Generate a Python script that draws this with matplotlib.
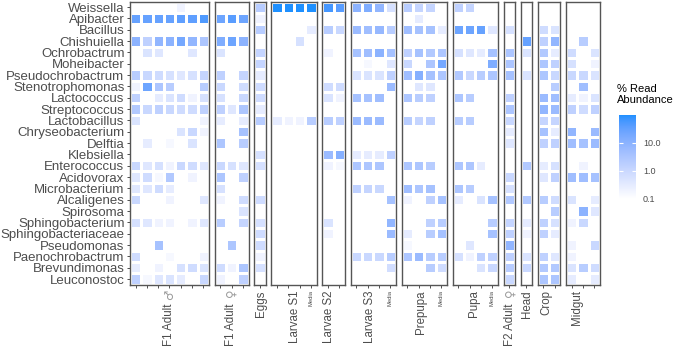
import numpy as np
import matplotlib
matplotlib.use("Agg")
import matplotlib.pyplot as plt
from matplotlib.colors import LogNorm, ListedColormap
from matplotlib.cm import ScalarMappable
from matplotlib.ticker import NullLocator

plt.rcParams['font.family'] = ['Liberation Sans', 'DejaVu Sans']

genera = ["Weissella", "Apibacter", "Bacillus", "Chishuiella", "Ochrobactrum",
          "Moheibacter", "Pseudochrobactrum", "Stenotrophomonas", "Lactococcus", "Streptococcus",
          "Lactobacillus", "Chryseobacterium", "Delftia", "Klebsiella", "Enterococcus",
          "Acidovorax", "Microbacterium", "Alcaligenes", "Spirosoma", "Sphingobacterium",
          "Sphingobacteriaceae", "Pseudomonas", "Paenochrobactrum", "Brevundimonas", "Leuconostoc"]

groups = ["F1 Adult ♂", "F1 Adult ♀", "Eggs", "Larvae S1", "Larvae S2", "Larvae S3",
          "Prepupa", "Pupa", "F2 Adult ♀", "Head", "Crop", "Midgut"]
# groups whose last sample is the rearing media
media_groups = ["Larvae S1", "Larvae S3", "Prepupa", "Pupa"]

# % read abundance, one list per sample (genus order as above), 0 = not detected
f1_male = [
    [0, 30, 0, 10, 0,   0, 2, 0.2, 1.5, 2.5,   0.5, 0, 0, 0, 1,   0.4, 0.4, 1, 0, 0.6,   0, 0, 0.8, 0.3, 1.5],
    [0, 30, 0, 1.5, 0.5,   0, 1, 25, 0, 1,   0, 0, 0.3, 0, 0.4,   0.8, 0.4, 0, 0, 0.4,   0, 0, 0, 0, 0.15],
    [0, 30, 0, 8, 0.4,   0, 0.8, 3, 0.3, 1.5,   0, 0, 0, 0, 0.6,   0.15, 0.8, 0, 0, 0.2,   0, 4, 0, 0.2, 0.4],
    [0, 30, 0, 10, 0,   0, 0.6, 2, 0.5, 1,   0, 0, 0.15, 0, 0.2,   2.5, 0.3, 0.2, 0, 0.2,   0, 0, 0.15, 0, 0.5],
    [0.2, 35, 0, 20, 0,   0, 0.4, 0, 0.8, 0.8,   0, 0.5, 0, 0, 1,   0, 0, 0.1, 0, 0,   0, 0, 0, 0.6, 0.3],
    [0, 35, 0, 8, 0.4,   0, 0.6, 0, 0.2, 0.8,   0, 1, 0.5, 0, 0.8,   0.2, 0, 0, 0, 0.2,   0, 0, 0, 0.8, 0],
    [0, 50, 0, 3, 0,   0, 1.2, 2, 0.6, 1.5,   0.2, 0.2, 0, 0.1, 0.4,   0, 0, 0.4, 0, 0.4,   0, 0, 0.2, 0.5, 1],
]
f1_female = [
    [0, 25, 0, 15, 0.5,   0, 1.5, 1, 0.6, 1.5,   0.3, 0, 3, 0, 1,   3, 0.6, 0.2, 0, 2,   0, 0, 0, 0.8, 0.2],
    [0, 40, 0, 25, 0,   0, 0, 0, 0, 0.4,   0, 0.1, 0, 0, 0.6,   0, 0, 0, 0, 0,   0, 3, 0, 0.2, 0],
    [0, 25, 0, 10, 0,   0, 1.2, 0.8, 1, 3,   0.3, 4, 2, 0, 0.4,   1.5, 0, 0.8, 0.5, 1.2,   0, 0, 0.1, 3, 1.5],
]
eggs = [
    [2, 0.2, 2, 0, 1.2,   1.2, 0.3, 0.8, 0.8, 0.3,   2, 0, 0, 0.6, 0.6,   0, 0, 0.8, 0, 0.6,   0.8, 0.8, 0.2, 0.6, 0],
]
larvae_s1 = [
    [100, 0, 0, 0, 0,   0, 0, 0, 0, 0,   0.3, 0, 0, 0, 0,   0, 0, 0, 0, 0,   0, 0, 0, 0, 0],
    [100, 0, 0, 0, 0,   0, 0, 0, 0, 0,   0.2, 0, 0, 0, 0,   0, 0, 0, 0, 0,   0, 0, 0, 0, 0],
    [100, 0, 0, 0.6, 0,   0, 0, 0, 0, 0,   0.2, 0, 0, 0, 0,   0, 0, 0, 0, 0,   0, 0, 0, 0, 0],
    [100, 0, 0.3, 0, 0,   0, 0, 0, 0, 0.1,   2, 0, 0, 0, 0,   0, 0, 0, 0, 0,   0, 0, 0, 0, 0],
]
larvae_s2 = [
    [60, 0, 2, 0, 0.2,   0, 0, 0.8, 0.5, 0,   2, 0, 0, 6, 0.2,   0, 0, 0.1, 0, 0.5,   0.2, 0, 0, 0, 0],
    [40, 0, 1, 0, 0,   0, 0, 0.8, 0.2, 0,   1.5, 0, 0, 12, 0.15,   0, 0, 0, 0, 0,   0, 0, 0, 0, 0],
]
larvae_s3 = [
    [10, 0, 6, 0, 4,   0, 0.5, 0, 4, 0,   6, 0, 0, 0.3, 3,   0, 1.5, 0, 0, 0,   0, 0, 1, 0, 0],
    [15, 0, 5, 0, 5,   0.15, 0.5, 0, 4, 0,   6, 0, 0, 0.3, 3,   0, 1.2, 0, 0, 0,   0, 0, 1, 0, 0],
    [8, 0, 7, 0, 10,   0, 0.5, 0, 5, 0,   6, 0, 0, 0.3, 3,   0, 1, 0, 0, 0,   0, 0, 1, 0, 0],
    [0.6, 0, 2, 0, 4,   0.4, 1.5, 6, 0, 0,   0, 0, 0.1, 1.5, 0,   0, 0, 4, 0, 8,   6, 0, 2, 0.7, 0],
]
prepupa = [
    [2, 0, 5, 0, 1.5,   1, 5, 0, 3, 0,   2, 0, 0, 0, 3,   0, 5, 0.2, 0, 0.1,   0.3, 0.15, 3, 0.1, 0],
    [1.2, 0.3, 4, 0, 4,   0, 12, 0.4, 2, 0,   1.2, 0, 0, 0, 3,   0, 3, 0.1, 0, 0,   0, 0, 6, 0, 0],
    [1.2, 0, 4, 0, 2.5,   3, 4, 0.4, 1.5, 0,   1.5, 0, 0, 0, 2,   0, 4, 1.5, 0, 1.5,   2, 0, 2, 2, 0],
    [0, 0, 0.3, 0, 3,   20, 3, 0, 0, 0,   0, 0, 0, 0, 0,   0, 0, 4, 0, 2,   4, 0, 2, 0.8, 0],
]
pupa = [
    [1.5, 0, 25, 0, 0.6,   0, 2.5, 0, 3, 0,   2, 0, 0, 0, 3,   0, 3, 0.3, 0, 0,   0, 0, 0.6, 0, 0],
    [1.2, 0, 25, 0, 0.4,   0, 1, 0, 2, 0,   2, 0, 0, 0, 3,   0, 2, 0, 0, 0,   0, 0.4, 0.2, 0.1, 0],
    [0, 0, 30, 0, 0.3,   0, 2, 0, 0, 0,   0, 0, 0, 0, 0.3,   0, 0, 0.5, 0, 0.1,   0, 0, 1.5, 0.5, 0],
    [0, 0, 0.4, 0, 4,   15, 3, 0, 0, 0,   0, 0, 0, 0, 0,   0, 0, 4, 0, 2,   4, 0, 1.5, 1, 0],
]
f2_female = [
    [0, 0, 0.6, 0, 3,   3, 4, 0, 1.5, 3,   1, 0.3, 0.4, 0, 0.1,   1, 0.6, 2.5, 0, 1.2,   1.5, 8, 1.5, 2, 1],
]
head = [
    [0, 0, 0, 30, 0.5,   0, 0.5, 0, 0, 0,   0, 0, 0, 0, 2.5,   0, 0, 2.5, 0, 0.3,   0.2, 0, 0.5, 1, 0],
]
crop = [
    [0.1, 0, 0.8, 1.5, 2.5,   3, 3, 0, 6, 8,   1.2, 4, 1.5, 0, 0.3,   0.4, 0.1, 2, 0, 1.5,   1.5, 0, 1.5, 2.5, 3],
    [0.1, 0, 0.5, 8, 0.3,   1.5, 1, 2, 5, 6,   1.2, 0.3, 1.5, 0, 0.6,   1.5, 0, 0.8, 2, 0.6,   0.3, 0.1, 0.4, 2.5, 3],
]
midgut = [
    [0, 0, 0.1, 0, 0.8,   0.6, 1, 0, 0.3, 1.5,   0, 8, 5, 0, 0,   5, 0, 0.5, 0, 0.2,   0, 0.2, 0.2, 0.5, 0.3],
    [0, 0, 0, 2, 0,   0, 1, 5, 0.2, 0.8,   0, 0, 4, 0, 0.2,   5, 0.1, 0, 10, 1,   0, 0, 0, 2, 0.1],
    [0, 0, 0, 0, 0.5,   0.2, 0.5, 0, 0.5, 1.5,   0, 6, 6, 0, 0,   4, 0, 0.3, 0.4, 0,   0, 1, 0, 0.8, 0.3],
]
group_data = [f1_male, f1_female, eggs, larvae_s1, larvae_s2, larvae_s3,
              prepupa, pupa, f2_female, head, crop, midgut]
# where the group name sits along each facet (in sample units)
label_at = [3.5, 1.4, 0.6, 2.1, 0.6, 1.7, 1.7, 1.9, 0.55, 0.55, 0.75, 1.0]


# white -> dodgerblue, interpolated in Lab like ggplot's gradient
def to_lab(rgb):
    c = np.asarray(rgb, float)
    lin = np.where(c <= 0.04045, c / 12.92, ((c + 0.055) / 1.055) ** 2.4)
    xyz = lin @ M.T / WHITE
    f = np.where(xyz > 0.008856, np.cbrt(xyz), 7.787 * xyz + 16 / 116)
    return np.stack([116 * f[..., 1] - 16, 500 * (f[..., 0] - f[..., 1]),
                     200 * (f[..., 1] - f[..., 2])], -1)


def from_lab(lab):
    fy = (lab[..., 0] + 16) / 116
    f = np.stack([fy + lab[..., 1] / 500, fy, fy - lab[..., 2] / 200], -1)
    xyz = np.where(f > 0.2069, f ** 3, (f - 16 / 116) / 7.787) * WHITE
    lin = xyz @ np.linalg.inv(M).T
    lin = np.clip(lin, 0, None)
    c = np.where(lin <= 0.0031308, 12.92 * lin, 1.055 * lin ** (1 / 2.4) - 0.055)
    return np.clip(c, 0, 1)


M = np.array([[0.4124, 0.3576, 0.1805], [0.2126, 0.7152, 0.0722], [0.0193, 0.1192, 0.9505]])
WHITE = np.array([0.95047, 1.0, 1.08883])
lo = to_lab([1, 1, 1])
hi = to_lab([30 / 255, 144 / 255, 1])
t = np.linspace(0, 1, 256)[:, None]
cmap = ListedColormap(from_lab(lo + t * (hi - lo)))
cmap.set_bad("white")
norm = LogNorm(vmin=0.1, vmax=100)

W, H = 674, 346
fig = plt.figure(figsize=(W / 100, H / 100), dpi=100)

x0, colw, gap = 130, 11.28, 5.8
top, bottom = 1.5, 284.7
txt = "#4d4d4d"


def group_label(ax, xpos, name, size):
    # sex symbols drawn in DejaVu so they come out at full size
    if name[-1] in "♂♀":
        ax.annotate(name[-1], xy=(xpos, 0), xycoords=("data", "axes fraction"),
                    xytext=(0, -3.5), textcoords="offset points", rotation=90,
                    ha="center", va="top", fontsize=size, color="#9a9a9a",
                    family="DejaVu Sans")
        ax.annotate(name[:-2], xy=(xpos, 0), xycoords=("data", "axes fraction"),
                    xytext=(0, -13.5), textcoords="offset points", rotation=90,
                    ha="center", va="top", fontsize=size, color=txt)
    else:
        ax.annotate(name, xy=(xpos, 0), xycoords=("data", "axes fraction"),
                    xytext=(0, -4), textcoords="offset points", rotation=90,
                    ha="center", va="top", fontsize=size, color=txt)


x = x0
for gi, (name, cols) in enumerate(zip(groups, group_data)):
    n = len(cols)
    ax = fig.add_axes([x / W, 1 - bottom / H, n * colw / W, (bottom - top) / H])
    vals = np.array(cols, float).T
    z = np.ma.masked_less_equal(vals, 0)
    ax.pcolormesh(np.arange(n + 1), np.arange(len(genera) + 1), z, cmap=cmap, norm=norm,
                  edgecolors="white", linewidth=0.9)
    ax.set_xlim(0, n)
    ax.set_ylim(len(genera), 0)
    for s in ax.spines.values():
        s.set_color("#555555")
        s.set_linewidth(1.0)
    ax.set_xticks(np.arange(n) + 0.5)
    ax.set_xticklabels([])
    ax.tick_params(axis="x", length=2.5, width=0.6, color="#333333")
    if gi == 0:
        ax.set_yticks(np.arange(len(genera)) + 0.5)
        ax.set_yticklabels(genera, fontsize=9.5, color=txt)
        ax.tick_params(axis="y", length=2.5, width=0.6, color="#333333", pad=1.5)
    else:
        ax.set_yticks([])
    group_label(ax, label_at[gi], name, 8.3)
    if name in media_groups:
        ax.annotate("Media", xy=(n - 0.5, 0), xycoords=("data", "axes fraction"),
                    xytext=(0, -4), textcoords="offset points", rotation=90,
                    ha="center", va="top", fontsize=4.2, color=txt)
    x += n * colw + gap

cax = fig.add_axes([619 / W, 1 - 199 / H, 17 / W, 84 / H])
cb = fig.colorbar(ScalarMappable(norm=norm, cmap=cmap), cax=cax)
cb.outline.set_visible(False)
cb.set_ticks([0.1, 1, 10])
cb.set_ticklabels(["0.1", "1.0", "10.0"])
cax.yaxis.set_minor_locator(NullLocator())
cax.tick_params(axis="y", which="major", direction="in", length=3, width=0.8,
                color="white", left=True, labelsize=6.5, labelcolor=txt, pad=5)

fig.text(617 / W, 1 - 94.5 / H, "% Read\nAbundance", fontsize=8.0, ha="left",
         va="center", linespacing=1.1, color="black")

fig.savefig("out.png", dpi=100)
